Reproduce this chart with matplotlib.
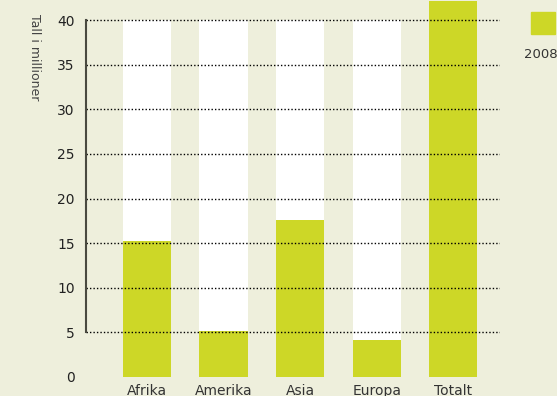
import matplotlib.pyplot as plt
from matplotlib.patches import Rectangle

# verdier (millioner)
regioner = ['Afrika', 'Amerika', 'Asia', 'Europa', 'Totalt']
tall_2008 = [15.2, 5.2, 17.6, 4.1, 42.1]
bakgrunn = [40, 40, 40, 40, 0]   # hvite søyler bak de grønne
yticks = [0, 5, 10, 15, 20, 25, 30, 35, 40]

bg = '#EEEFDC'
gronn = '#CDD727'

fig = plt.figure(figsize=(5.57, 3.96), dpi=100, facecolor=bg)
ax = fig.add_axes([0.1544, 0.048, 0.7433, 0.951])
ax.set_facecolor(bg)

x = range(len(regioner))
ax.bar(x, bakgrunn, width=0.63, color='white', zorder=1, clip_on=False)
ax.bar(x, tall_2008, width=0.63, color=gronn, zorder=2, clip_on=False)

ax.set_xlim(-0.797, 4.61)
ax.set_ylim(0, 42.2)

# stiplede hjelpelinjer over søylene
ax.hlines(yticks[1:], -0.797, 4.61, colors='black', linestyles=(0, (1, 1.5)),
          linewidth=1, zorder=3)

for s in ['top', 'right', 'bottom']:
    ax.spines[s].set_visible(False)
ax.spines['left'].set_bounds(5, 40)
ax.spines['left'].set_color('#4a4a40')
ax.spines['left'].set_linewidth(1.5)
ax.spines['left'].set_zorder(4)

ax.set_yticks(yticks)
ax.set_yticklabels([str(v) for v in yticks], fontsize=10, color='#222222')
ax.tick_params(axis='y', length=0, pad=8)
ax.set_xticks(list(x))
ax.set_xticklabels(regioner, fontsize=10, color='#333333')
ax.tick_params(axis='x', length=0, pad=5)

fig.text(0.062, 0.965, 'Tall i millioner', rotation=270, ha='center', va='top',
         fontsize=9, color='#444444')

# forklaring
fig.patches.append(Rectangle((531 / 557, 1 - 34 / 396), 24 / 557, 22 / 396,
                             transform=fig.transFigure, color=gronn))
fig.text(524 / 557, 1 - 55 / 396, '2008', ha='left', va='center',
         fontsize=9.5, color='#333333')

fig.savefig('out.png', dpi=100, facecolor=bg)
